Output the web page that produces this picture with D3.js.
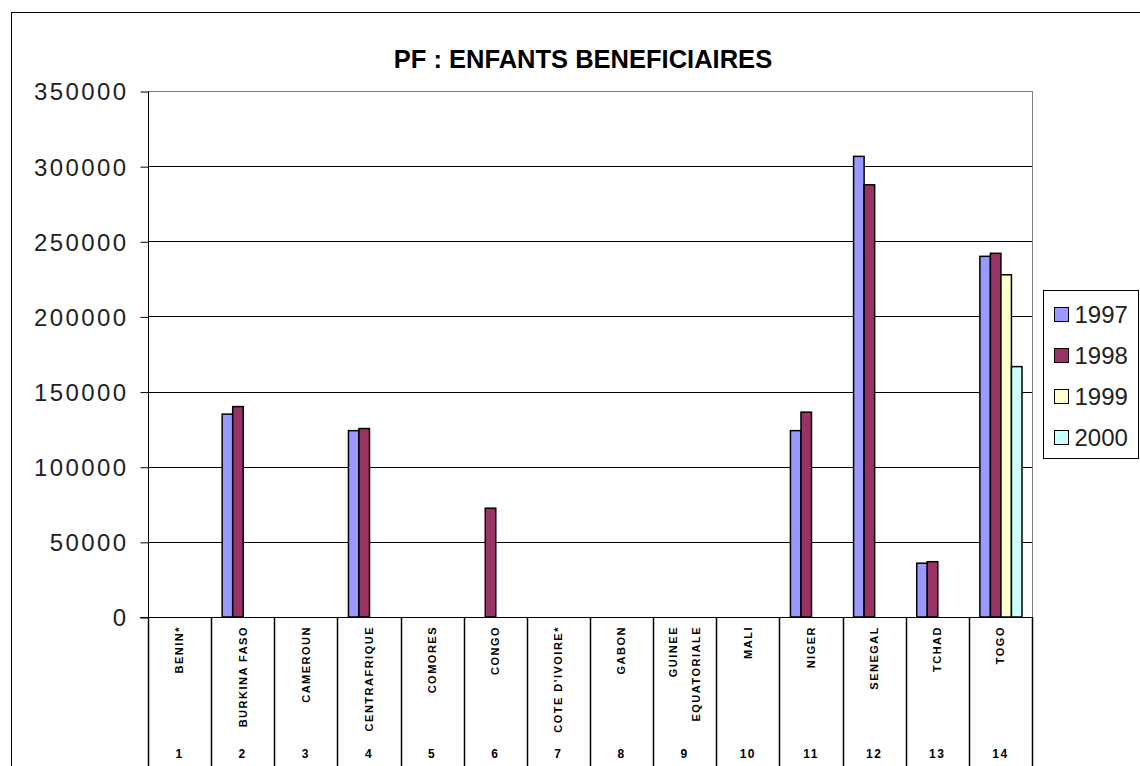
<!DOCTYPE html>
<html>
<head>
<meta charset="utf-8">
<script src="https://cdnjs.cloudflare.com/ajax/libs/d3/7.8.5/d3.min.js"></script>
<style>
  body { margin: 0; background: #fff; }
  svg { display: block; }
  text { font-family: "Liberation Sans", Arial, sans-serif; }
</style>
</head>
<body>
<svg id="rootLayer" width="1140" height="766"></svg>
<script>
// Chart data.
var chartTitle = 'PF : ENFANTS BENEFICIAIRES';
var countries = ['BENIN*', 'BURKINA FASO', 'CAMEROUN', 'CENTRAFRIQUE', 'COMORES',
  'CONGO', "COTE D'IVOIRE*", 'GABON', 'GUINEE\nEQUATORIALE', 'MALI', 'NIGER',
  'SENEGAL', 'TCHAD', 'TOGO'];
var countryNumbers = ['1', '2', '3', '4', '5', '6', '7', '8', '9', '10', '11', '12', '13', '14'];
var years = ['1997', '1998', '1999', '2000'];
var values1997 = [null, 135000, null, 124000, null, null, null, null, null, null, 124000, 306500, 35800, 240000];
var values1998 = [null, 140000, null, 125400, null, 72400, null, null, null, null, 136300, 287600, 36800, 242000];
var values1999 = [null, null, null, null, null, null, null, null, null, null, null, null, null, 227700];
var values2000 = [null, null, null, null, null, null, null, null, null, null, null, null, null, 166600];
var yTicks = [0, 50000, 100000, 150000, 200000, 250000, 300000, 350000];
var yearColors = ['#9999FF', '#993366', '#FFFFCC', '#CCFFFF'];

var seriesValues = [values1997, values1998, values1999, values2000];

var svg = d3.select('#rootLayer');

// plot area box (note: "top" is taken by window.top, so prefix these)
var plotLeft = 148, plotRight = 1032, plotTop = 91, plotBottom = 617;

// outer chart frame (right and bottom edges fall outside the picture)
svg.append('rect')
  .attr('x', 11.5).attr('y', 12.5)
  .attr('width', 1200).attr('height', 800)
  .attr('fill', 'none').attr('stroke', '#000').attr('stroke-width', 1);

var x0 = d3.scaleBand().domain(d3.range(countries.length)).range([plotLeft, plotRight])
  .paddingInner(0).paddingOuter(0);
// 4 bars take 4 of 6 steps, one empty step each side (Excel gap width)
var x1 = d3.scaleBand().domain(years).range([0, x0.bandwidth()])
  .paddingInner(0).paddingOuter(1);
var y = d3.scaleLinear().domain([0, 350000]).range([plotBottom, plotTop]);

// gridlines
svg.append('g').selectAll('line')
  .data(yTicks.filter(function(d) { return d > 0; }))
  .join('line')
  .attr('x1', plotLeft).attr('x2', plotRight)
  .attr('y1', function(d) { return Math.round(y(d)) + 0.5; })
  .attr('y2', function(d) { return Math.round(y(d)) + 0.5; })
  .attr('stroke', function(d) { return d === 350000 ? '#808080' : '#000'; })
  .attr('stroke-width', 1);

// right edge of plot area is grey
svg.append('line')
  .attr('x1', plotRight + 0.5).attr('x2', plotRight + 0.5)
  .attr('y1', plotTop).attr('y2', plotBottom)
  .attr('stroke', '#808080');

// y axis via d3 axis, then restyled
var yAxis = d3.axisLeft(y).tickValues(yTicks).tickSize(8).tickPadding(12)
  .tickFormat(d3.format('d'));
var yg = svg.append('g')
  .attr('transform', 'translate(' + (plotLeft + 0.5) + ',0.5)')
  .call(yAxis);
yg.select('.domain').attr('stroke', '#000')
  .attr('d', 'M0,' + plotTop + 'V' + (plotBottom + 149));
yg.selectAll('.tick line').attr('stroke', '#000');
yg.selectAll('.tick text')
  .attr('fill', '#222')
  .style('font-size', '24px')
  .style('letter-spacing', '2.4px')
  .attr('dy', '0.35em');

// bars
var groups = svg.append('g').selectAll('g')
  .data(seriesValues)
  .join('g')
  .attr('fill', function(d, i) { return yearColors[i]; });

groups.selectAll('rect')
  .data(function(vals, si) {
    return vals.map(function(v, ci) { return {v: v, ci: ci, year: years[si]}; })
      .filter(function(d) { return d.v !== null; });
  })
  .join('rect')
  .attr('x', function(d) { return x0(d.ci) + x1(d.year) + 0.5; })
  .attr('y', function(d) { return y(d.v); })
  .attr('width', x1.bandwidth())
  .attr('height', function(d) { return plotBottom - y(d.v); })
  .attr('stroke', '#000')
  .attr('stroke-width', 1.5);

// x axis line
svg.append('line')
  .attr('x1', plotLeft - 8).attr('x2', plotRight + 1)
  .attr('y1', plotBottom + 0.5).attr('y2', plotBottom + 0.5)
  .attr('stroke', '#000');

// data table under the axis: one column per country
var table = svg.append('g');
table.selectAll('line')
  .data(d3.range(countries.length + 1))
  .join('line')
  .attr('x1', function(i) { return Math.round(plotLeft + i * x0.step()) + 0.5; })
  .attr('x2', function(i) { return Math.round(plotLeft + i * x0.step()) + 0.5; })
  .attr('y1', plotBottom).attr('y2', 766)
  .attr('stroke', '#000')
  .attr('stroke-width', 1.5);

var labels = table.selectAll('text.country')
  .data(countries)
  .join('text')
  .attr('class', 'country')
  .attr('transform', function(d, i) {
    var cx = x0(i) + x0.bandwidth() / 2;
    return 'translate(' + cx + ',626) rotate(-90)';
  })
  .attr('text-anchor', 'end')
  .style('font-size', '11px')
  .style('font-weight', 'bold')
  .style('letter-spacing', '1.5px')
  .attr('fill', '#000');

labels.each(function(d) {
  var lines = d.split('\n');
  var t = d3.select(this);
  lines.forEach(function(line, k) {
    t.append('tspan')
      .attr('x', 0)
      .attr('y', (k - (lines.length - 1) / 2) * 23)
      .attr('dy', '0.35em')
      .text(line);
  });
});

table.selectAll('text.num')
  .data(countryNumbers)
  .join('text')
  .attr('class', 'num')
  .attr('x', function(d, i) { return x0(i) + x0.bandwidth() / 2; })
  .attr('y', 758)
  .attr('text-anchor', 'middle')
  .style('font-size', '12px')
  .style('font-weight', 'bold')
  .style('letter-spacing', '1.5px')
  .text(function(d) { return d; });

// title
svg.append('text')
  .attr('x', 583).attr('y', 68)
  .attr('text-anchor', 'middle')
  .style('font-size', '25.5px')
  .style('font-weight', 'bold')
  .text(chartTitle);

// legend
var legend = svg.append('g').attr('transform', 'translate(1043.5,290.5)');
legend.append('rect')
  .attr('width', 95).attr('height', 168)
  .attr('fill', '#fff').attr('stroke', '#000');
var items = legend.selectAll('g')
  .data(years)
  .join('g')
  .attr('transform', function(d, i) { return 'translate(0,' + (24 + i * 41) + ')'; });
items.append('rect')
  .attr('x', 11).attr('y', -7)
  .attr('width', 14).attr('height', 14)
  .attr('fill', function(d, i) { return yearColors[i]; })
  .attr('stroke', '#000');
items.append('text')
  .attr('x', 31).attr('y', 0)
  .attr('dy', '0.36em')
  .style('font-size', '24px')
  .attr('fill', '#222')
  .text(function(d) { return d; });
</script>
</body>
</html>
